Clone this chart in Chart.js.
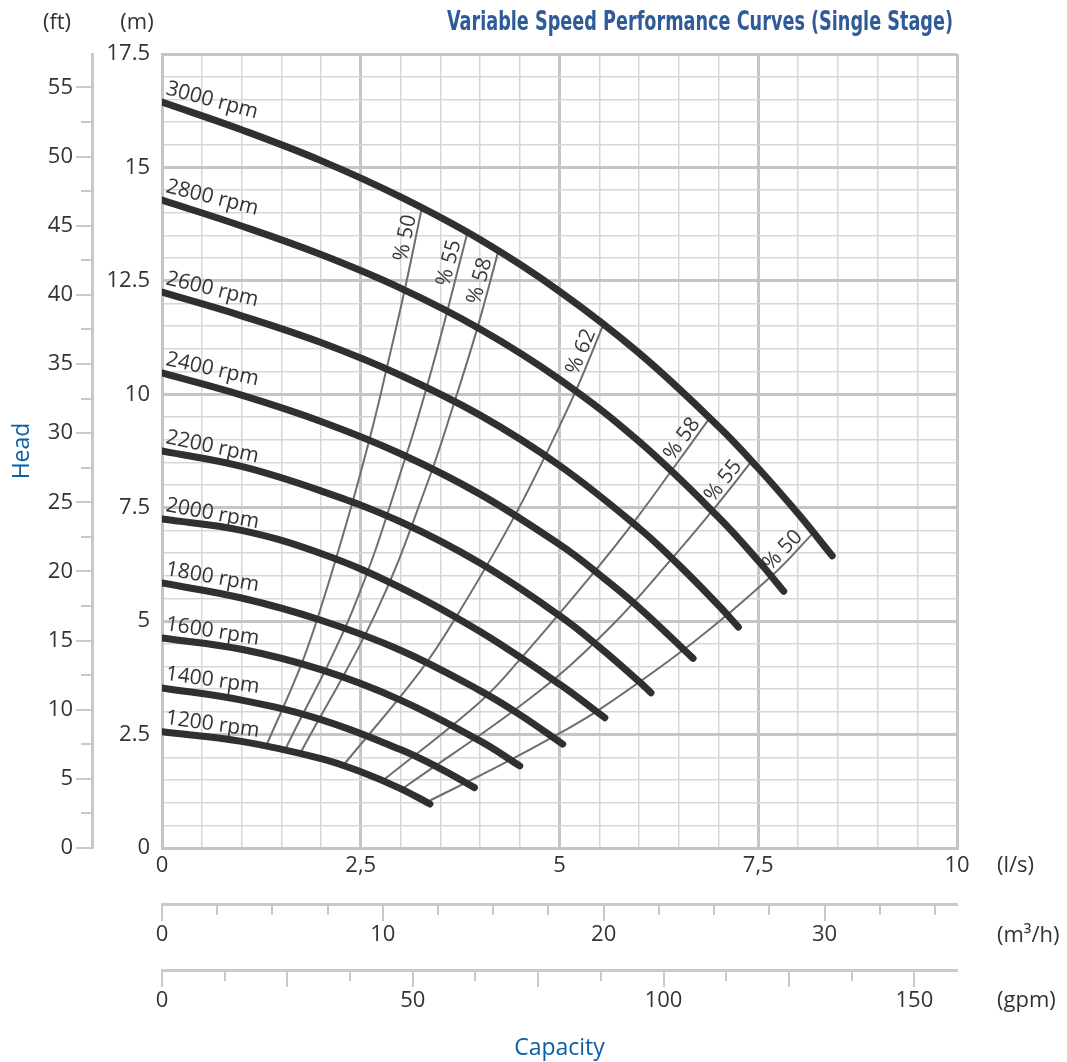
<!DOCTYPE html>
<html>
<head>
<meta charset="utf-8">
<title>Variable Speed Performance Curves (Single Stage)</title>
<script src="https://cdn.jsdelivr.net/npm/chart.js@4.4.1/dist/chart.umd.min.js"></script>
<style>
html,body{margin:0;padding:0;background:#ffffff;}
#wrap{position:relative;width:1067px;height:1062px;}
canvas{display:block;}
</style>
</head>
<body>
<div id="wrap"><canvas id="chart" width="1067" height="1062"></canvas></div>
<script>
// ================= DATA =================
// Capacity in l/s, head in m
const speedNames = ['3000 rpm','2800 rpm','2600 rpm','2400 rpm','2200 rpm','2000 rpm','1800 rpm','1600 rpm','1400 rpm','1200 rpm'];

const q3000 = [0, 1, 2, 3, 4, 5, 6, 7, 7.5, 8, 8.43];
const h3000 = [16.44, 15.83, 15.15, 14.35, 13.41, 12.27, 10.91, 9.29, 8.37, 7.37, 6.44];
const q2800 = [0, 1, 2, 3, 4, 5, 6, 7, 7.5, 7.82];
const h2800 = [14.28, 13.71, 13.08, 12.34, 11.44, 10.33, 8.96, 7.29, 6.33, 5.66];
const q2600 = [0, 1, 2, 3, 4, 5, 6, 6.5, 7, 7.25];
const h2600 = [12.25, 11.73, 11.14, 10.42, 9.54, 8.43, 7.05, 6.24, 5.35, 4.87];
const q2400 = [0, 1, 2, 3, 4, 5, 5.5, 6, 6.68];
const h2400 = [10.47, 9.98, 9.40, 8.69, 7.80, 6.69, 6.03, 5.30, 4.18];
const q2200 = [0, 1, 2, 3, 4, 5, 5.5, 6, 6.15];
const h2200 = [8.75, 8.41, 7.87, 7.19, 6.28, 5.12, 4.43, 3.67, 3.42];
const q2000 = [0, 1, 2, 3, 4, 5, 5.57];
const h2000 = [7.25, 7.00, 6.49, 5.74, 4.77, 3.61, 2.87];
const q1800 = [0, 1, 2, 3, 4, 4.5, 5.04];
const h1800 = [5.84, 5.51, 5.02, 4.36, 3.47, 2.94, 2.29];
const q1600 = [0, 1, 2, 3, 4, 4.5];
const h1600 = [4.63, 4.38, 3.93, 3.26, 2.36, 1.81];
const q1400 = [0, 1, 2, 3, 3.5, 3.93];
const h1400 = [3.53, 3.26, 2.83, 2.17, 1.75, 1.33];
const q1200 = [0, 1, 2, 2.5, 3, 3.37];
const h1200 = [2.56, 2.35, 1.97, 1.68, 1.31, 0.97];

// Efficiency (iso-efficiency) lines
const effNames = ['% 50', '% 55', '% 58', '% 62', '% 58', '% 55', '% 50'];
const qEffL50 = [1.31, 1.74, 1.99, 2.36, 2.65, 2.83, 3.06, 3.27];
const hEffL50 = [2.25, 3.99, 5.25, 7.40, 9.28, 10.60, 12.36, 14.12];
const qEffL55 = [1.55, 2.40, 3.08, 3.41, 3.84];
const hEffL55 = [2.17, 5.25, 8.70, 10.66, 13.55];
const qEffL58 = [1.74, 2.70, 3.35, 3.66, 3.96, 4.23];
const hEffL58 = [2.09, 5.22, 8.10, 9.73, 11.42, 13.15];
const qEff62 = [2.28, 3.25, 3.71, 4.47, 5.16, 5.55];
const hEff62 = [1.82, 3.90, 5.12, 7.43, 9.90, 11.53];
const qEffR58 = [2.78, 4.0, 4.5, 5.42, 5.92, 6.39, 6.89];
const hEffR58 = [1.49, 3.22, 4.15, 6.05, 7.15, 8.27, 9.48];
const qEffR55 = [3.02, 4.63, 5.6, 6.43, 6.93, 7.42];
const hEffR55 = [1.30, 3.30, 4.80, 6.41, 7.45, 8.53];
const qEffR50 = [3.33, 4.25, 4.97, 5.51, 6.68, 7.67, 8.19];
const hEffR50 = [1.01, 1.82, 2.50, 3.06, 4.53, 6.00, 6.94];

// Tick labels
const lpsTickValues = [0, 2.5, 5, 7.5, 10];
const lpsTickLabels = ['0', '2,5', '5', '7,5', '10'];
const headTickValues = [0, 2.5, 5, 7.5, 10, 12.5, 15, 17.5];
const headTickLabels = ['0', '2.5', '5', '7.5', '10', '12.5', '15', '17.5'];
const ftTickValues = [0, 5, 10, 15, 20, 25, 30, 35, 40, 45, 50, 55];
const ftTickLabels = ['0', '5', '10', '15', '20', '25', '30', '35', '40', '45', '50', '55'];
const m3hTickValues = [0, 10, 20, 30];
const m3hTickLabels = ['0', '10', '20', '30'];
const gpmTickValues = [0, 50, 100, 150];
const gpmTickLabels = ['0', '50', '100', '150'];

// Axis ranges and unit conversions
const LPS_MAX = 10;
const HEAD_MAX = 17.5;
const FT_PER_M = 1 / 0.3048;
const M3H_PER_LPS = 3.6;
const GPM_PER_LPS = 15.850323;

// ================= STYLE =================
const FONT = '"Open Sans", "Noto Sans", "DejaVu Sans", sans-serif';
const TXT = '#333333';
const BLUE = '#0b5fa5';
const GRID_MAJOR = '#c4c5c9';
const GRID_MINOR = '#d6d7da';
const CURVE = '#303032';
const EFF = '#6e6e72';
const AXIS = '#c8c9cd';

const isMult = (v, s) => Math.abs(v / s - Math.round(v / s)) < 1e-6;
const labelFrom = (vals, texts) => (v) => {
  const i = vals.findIndex(t => Math.abs(t - v) < 1e-6);
  return i >= 0 ? texts[i] : '';
};
const keepMultiples = (step) => (scale) => {
  scale.ticks = scale.ticks.filter(t => isMult(t.value, step));
};
const pts = (q, h) => q.map((x, i) => ({x: x, y: h[i]}));

const speedQ = [q3000, q2800, q2600, q2400, q2200, q2000, q1800, q1600, q1400, q1200];
const speedH = [h3000, h2800, h2600, h2400, h2200, h2000, h1800, h1600, h1400, h1200];
const effQ = [qEffL50, qEffL55, qEffL58, qEff62, qEffR58, qEffR55, qEffR50];
const effH = [hEffL50, hEffL55, hEffL58, hEff62, hEffR58, hEffR55, hEffR50];

const datasets = [];
speedNames.forEach((name, i) => {
  datasets.push({
    label: name, kind: 'speed',
    data: pts(speedQ[i], speedH[i]),
    borderColor: CURVE, borderWidth: 7,
    borderCapStyle: 'round', borderJoinStyle: 'round',
    pointRadius: 0, fill: false, tension: 0.4
  });
});
effNames.forEach((name, i) => {
  datasets.push({
    label: name, kind: 'eff',
    data: pts(effQ[i], effH[i]),
    borderColor: EFF, borderWidth: 2,
    pointRadius: 0, fill: false, tension: 0.4
  });
});

// ================= PLUGINS =================
const speedAngles = [15, 14, 13.5, 12.5, 12, 10.5, 10, 9, 8, 8];

const curveLabels = {
  id: 'curveLabels',
  afterDatasetsDraw(chart) {
    const ctx = chart.ctx;
    ctx.save();
    chart.data.datasets.forEach((ds, di) => {
      const meta = chart.getDatasetMeta(di);
      const p = meta.data;
      if (!p || !p.length) return;
      if (ds.kind === 'speed') {
        ctx.save();
        ctx.font = '21px ' + FONT;
        ctx.fillStyle = TXT;
        ctx.translate(p[0].x + 3, p[0].y - 8);
        ctx.rotate(speedAngles[di] * Math.PI / 180);
        ctx.textAlign = 'left';
        ctx.textBaseline = 'alphabetic';
        ctx.fillText(ds.label, 0, 0);
        ctx.restore();
      } else {
        const p1 = p[p.length - 1], p0 = p[p.length - 2];
        const ang = Math.atan2(p1.y - p0.y, p1.x - p0.x);
        ctx.save();
        ctx.font = '21px ' + FONT;
        ctx.fillStyle = '#3a3a3c';
        ctx.translate(p1.x, p1.y);
        ctx.rotate(ang);
        ctx.textAlign = 'right';
        ctx.textBaseline = 'alphabetic';
        ctx.fillText(ds.label, -10, -4);
        ctx.restore();
      }
    });
    ctx.restore();
  }
};

const extraAxes = {
  id: 'extraAxes',
  afterDraw(chart) {
    const ctx = chart.ctx;
    const ft = chart.scales.yft, m3 = chart.scales.xm3, gpm = chart.scales.xgpm;
    ctx.save();
    ctx.strokeStyle = AXIS;
    ctx.lineWidth = 2;
    ctx.beginPath();
    ft.ticks.forEach(t => {
      const y = Math.round(ft.getPixelForValue(t.value));
      const len = isMult(t.value, 5) ? 15 : 10;
      ctx.moveTo(ft.right - 1, y); ctx.lineTo(ft.right - 1 - len, y);
    });
    m3.ticks.forEach(t => {
      const x = Math.round(m3.getPixelForValue(t.value));
      const len = isMult(t.value, 10) ? 16 : 10;
      ctx.moveTo(x, m3.top + 1); ctx.lineTo(x, m3.top + 1 + len);
    });
    gpm.ticks.forEach(t => {
      const x = Math.round(gpm.getPixelForValue(t.value));
      const len = isMult(t.value, 25) ? 16 : 10;
      ctx.moveTo(x, gpm.top + 1); ctx.lineTo(x, gpm.top + 1 + len);
    });
    ctx.stroke();

    // unit labels
    ctx.fillStyle = TXT;
    ctx.font = '22px ' + FONT;
    ctx.textBaseline = 'middle';
    ctx.textAlign = 'center';
    ctx.fillText('(ft)', 57, 23);
    ctx.fillText('(m)', 137, 23);
    ctx.textAlign = 'left';
    const ux = chart.chartArea.right + 40;
    ctx.fillText('(l/s)', ux, chart.scales.x.top + 18);
    ctx.fillText('(m³/h)', ux, m3.top + 32);
    ctx.fillText('(gpm)', ux, gpm.top + 31);

    // title
    const title = 'Variable Speed Performance Curves (Single Stage)';
    ctx.font = 'bold 27px "Liberation Sans Narrow", "DejaVu Sans Condensed", "Roboto", sans-serif';
    const w = ctx.measureText(title).width;
    const target = 506;
    ctx.save();
    ctx.translate(953, 23);
    ctx.scale(target / w, 1);
    ctx.textAlign = 'right';
    ctx.textBaseline = 'middle';
    ctx.fillStyle = '#2f5b98';
    ctx.fillText(title, 0, 0);
    ctx.restore();
    ctx.restore();
  }
};

// ================= CHART =================
const gridMajorMinor = (step) => ({
  color: (c) => (c.tick && isMult(c.tick.value, step)) ? GRID_MAJOR : GRID_MINOR,
  lineWidth: (c) => (c.tick && isMult(c.tick.value, step)) ? 3 : 1.5,
  drawTicks: false
});

new Chart(document.getElementById('chart'), {
  type: 'line',
  data: { datasets: datasets },
  options: {
    responsive: false,
    animation: false,
    devicePixelRatio: 1,
    layout: { padding: { top: 54, right: 110, left: 0, bottom: 0 } },
    plugins: { legend: { display: false }, tooltip: { enabled: false }, title: { display: false } },
    scales: {
      x: {
        type: 'linear', position: 'bottom', weight: 0,
        min: 0, max: LPS_MAX,
        grid: gridMajorMinor(2.5),
        border: { display: true, color: GRID_MAJOR, width: 3 },
        ticks: {
          stepSize: 0.5, maxTicksLimit: 1000, autoSkip: false, maxRotation: 0, includeBounds: false,
          padding: 5, color: TXT, font: { family: FONT, size: 22 },
          callback: labelFrom(lpsTickValues, lpsTickLabels)
        },
        afterBuildTicks: keepMultiples(0.5),
        afterFit: (s) => { s.height = 56; }
      },
      xm3: {
        type: 'linear', position: 'bottom', weight: 1,
        min: 0, max: LPS_MAX * M3H_PER_LPS,
        grid: { drawOnChartArea: false, drawTicks: false },
        border: { display: true, color: AXIS, width: 3 },
        ticks: {
          stepSize: 2.5, maxTicksLimit: 1000, autoSkip: false, maxRotation: 0, includeBounds: false,
          padding: 18, color: TXT, font: { family: FONT, size: 22 },
          callback: labelFrom(m3hTickValues, m3hTickLabels)
        },
        afterBuildTicks: keepMultiples(2.5),
        afterFit: (s) => { s.height = 66; }
      },
      xgpm: {
        type: 'linear', position: 'bottom', weight: 2,
        min: 0, max: LPS_MAX * GPM_PER_LPS,
        grid: { drawOnChartArea: false, drawTicks: false },
        border: { display: true, color: AXIS, width: 3 },
        ticks: {
          stepSize: 12.5, maxTicksLimit: 1000, autoSkip: false, maxRotation: 0, includeBounds: false,
          padding: 18, color: TXT, font: { family: FONT, size: 22 },
          callback: labelFrom(gpmTickValues, gpmTickLabels)
        },
        title: { display: true, text: 'Capacity', color: BLUE, font: { family: FONT, size: 23 }, padding: { top: 0, bottom: 0 } },
        afterBuildTicks: keepMultiples(12.5),
        afterFit: (s) => { s.height = 92; }
      },
      y: {
        type: 'linear', position: 'left', weight: 0,
        min: 0, max: HEAD_MAX,
        grid: gridMajorMinor(2.5),
        border: { display: true, color: GRID_MAJOR, width: 3 },
        ticks: {
          stepSize: 0.5, maxTicksLimit: 1000, autoSkip: false, includeBounds: false,
          padding: 12, color: TXT, font: { family: FONT, size: 22 },
          callback: labelFrom(headTickValues, headTickLabels)
        },
        afterBuildTicks: keepMultiples(0.5),
        afterFit: (s) => { s.width = 70; }
      },
      yft: {
        type: 'linear', position: 'left', weight: 1,
        min: 0, max: HEAD_MAX * FT_PER_M,
        grid: { drawOnChartArea: false, drawTicks: false },
        border: { display: true, color: AXIS, width: 3 },
        ticks: {
          stepSize: 2.5, maxTicksLimit: 1000, autoSkip: false, includeBounds: false,
          padding: 19, color: TXT, font: { family: FONT, size: 22 },
          callback: labelFrom(ftTickValues, ftTickLabels)
        },
        title: { display: true, text: 'Head', color: BLUE, font: { family: FONT, size: 23 }, padding: { top: 9, bottom: 0 } },
        afterBuildTicks: keepMultiples(2.5),
        afterFit: (s) => { s.width = 92; }
      }
    }
  },
  plugins: [curveLabels, extraAxes]
});
</script>
</body>
</html>
